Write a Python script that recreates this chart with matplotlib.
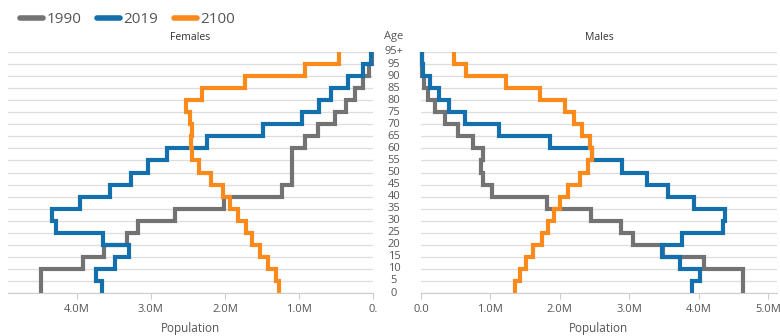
# Population pyramid: 1990 / 2019 / 2100, females vs males, step outlines.

import numpy as np
import matplotlib
matplotlib.use('Agg')
import matplotlib.pyplot as plt
from matplotlib.lines import Line2D
import matplotlib.transforms as mtransforms

plt.rcParams['font.family'] = ['Open Sans', 'DejaVu Sans']

# Age groups from 0-4 up to 95+ (boundary labels on the axis)
ageLabels = ['0', '5', '10', '15', '20', '25', '30', '35', '40', '45', '50',
             '55', '60', '65', '70', '75', '80', '85', '90', '95', '95+']
years = ['1990', '2019', '2100']

# Population in millions, one value per age group (0-4 ... 95+)
females1990 = [4.49, 4.49, 3.92, 3.64, 3.32, 3.18, 2.68, 2.01, 1.23, 1.09,
               1.10, 1.10, 0.92, 0.74, 0.51, 0.36, 0.24, 0.14, 0.05, 0.02]
females2019 = [3.66, 3.74, 3.49, 3.30, 3.65, 4.28, 4.34, 3.96, 3.55, 3.27,
               3.04, 2.78, 2.24, 1.49, 0.96, 0.73, 0.57, 0.34, 0.13, 0.03]
females2100 = [1.27, 1.31, 1.42, 1.53, 1.63, 1.72, 1.82, 1.93, 2.03, 2.19,
               2.35, 2.45, 2.46, 2.45, 2.47, 2.53, 2.31, 1.73, 0.92, 0.46]

males1990 = [4.64, 4.64, 4.08, 3.49, 3.05, 2.88, 2.45, 1.81, 1.03, 0.89,
             0.86, 0.90, 0.75, 0.54, 0.34, 0.20, 0.10, 0.04, 0.02, 0.01]
males2019 = [3.91, 4.02, 3.73, 3.48, 3.76, 4.35, 4.38, 3.93, 3.56, 3.25,
             2.89, 2.46, 1.86, 1.12, 0.64, 0.41, 0.26, 0.13, 0.03, 0.01]
males2100 = [1.35, 1.43, 1.51, 1.62, 1.74, 1.83, 1.92, 2.00, 2.12, 2.29,
             2.41, 2.46, 2.43, 2.32, 2.20, 2.07, 1.72, 1.22, 0.65, 0.48]

leftTicks = [4.0, 3.0, 2.0, 1.0, 0.0]
leftTickLabels = ['4.0M', '3.0M', '2.0M', '1.0M', '0.']
rightTicks = [0.0, 1.0, 2.0, 3.0, 4.0, 5.0]
rightTickLabels = ['0.0', '1.0M', '2.0M', '3.0M', '4.0M', '5.0M']

colors = ['#737373', '#1470ac', '#fa8a1c']
textColor = '#555555'
gridColor = '#dddddd'

fig = plt.figure(figsize=(7.8, 3.36), dpi=100)
axL = fig.add_axes([8 / 780, 43 / 336, 365 / 780, 241 / 336])
axR = fig.add_axes([421 / 780, 43 / 336, 356 / 780, 241 / 336])

edges = np.arange(len(ageLabels))

def drawSide(ax, series, title, ticks, tickLabels):
  for vals, c in zip(series, colors):
    ax.stairs(vals, edges, orientation='horizontal', baseline=None,
              color=c, lw=3, clip_on=False)
  ax.set_ylim(0, len(ageLabels) - 1)
  ax.set_yticks(edges)
  ax.yaxis.grid(True, color=gridColor, lw=0.9)
  ax.set_axisbelow(True)
  ax.tick_params(axis='y', length=0, labelleft=False)
  for s in ['top', 'left', 'right']:
    ax.spines[s].set_visible(False)
  ax.spines['bottom'].set_color('#cccccc')
  ax.set_xticks(ticks)
  ax.set_xticklabels(tickLabels)
  ax.tick_params(axis='x', length=4, color='#cccccc', labelsize=8,
                 labelcolor=textColor, pad=4)
  ax.set_xlabel('Population', fontsize=8.5, color=textColor, labelpad=5)
  ax.set_title(title, fontsize=7.5, color='#333333', pad=9)

drawSide(axL, [females1990, females2019, females2100], 'Females',
         leftTicks, leftTickLabels)
axL.set_xlim(4.93, 0)

drawSide(axR, [males1990, males2019, males2100], 'Males',
         rightTicks, rightTickLabels)
axR.set_xlim(0, 5.13)

# Age labels in the gap between the two panels
trans = mtransforms.blended_transform_factory(fig.transFigure, axL.transData)
for i, lab in enumerate(ageLabels):
  fig.text(394 / 780, i, lab, transform=trans, ha='center', va='center',
           fontsize=8, color=textColor)
fig.text(394 / 780, 1 - 36 / 336, 'Age', ha='center', va='center',
         fontsize=8, color=textColor)

handles = [Line2D([0], [0], color=c, lw=4, solid_capstyle='round') for c in colors]
fig.legend(handles, years, loc='upper left', bbox_to_anchor=(0.008, 1.005),
           ncol=3, frameon=False, fontsize=11, labelcolor=textColor,
           handlelength=1.5, handletextpad=0.25, columnspacing=1.0)

fig.savefig('out.png', dpi=100)
